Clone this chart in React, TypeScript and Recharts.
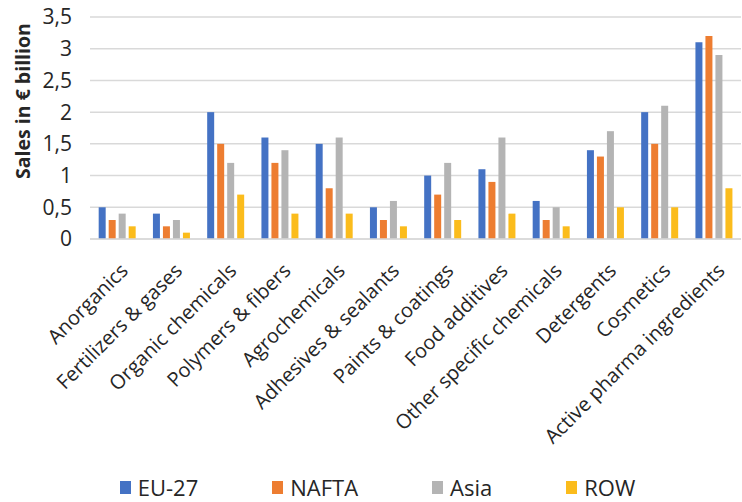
import { BarChart, Bar, XAxis, YAxis, CartesianGrid, Legend } from 'recharts';

const categories = [
  'Anorganics',
  'Fertilizers & gases',
  'Organic chemicals',
  'Polymers & fibers',
  'Agrochemicals',
  'Adhesives & sealants',
  'Paints & coatings',
  'Food additives',
  'Other specific chemicals',
  'Detergents',
  'Cosmetics',
  'Active pharma ingredients',
];
const eu27 = [0.5, 0.4, 2.0, 1.6, 1.5, 0.5, 1.0, 1.1, 0.6, 1.4, 2.0, 3.1];
const nafta = [0.3, 0.2, 1.5, 1.2, 0.8, 0.3, 0.7, 0.9, 0.3, 1.3, 1.5, 3.2];
const asia = [0.4, 0.3, 1.2, 1.4, 1.6, 0.6, 1.2, 1.6, 0.5, 1.7, 2.1, 2.9];
const row = [0.2, 0.1, 0.7, 0.4, 0.4, 0.2, 0.3, 0.4, 0.2, 0.5, 0.5, 0.8];
const yTicks = [0, 0.5, 1, 1.5, 2, 2.5, 3, 3.5];

const series = [
  { key: 'eu27', name: 'EU-27', color: '#4472C4' },
  { key: 'nafta', name: 'NAFTA', color: '#ED7D31' },
  { key: 'asia', name: 'Asia', color: '#B4B4B4' },
  { key: 'row', name: 'ROW', color: '#FBBC1C' },
];

const data = categories.map((name, i) => ({
  name,
  eu27: eu27[i],
  nafta: nafta[i],
  asia: asia[i],
  row: row[i],
}));

const FONT = '"Open Sans", sans-serif';

// rotated category label, end of text sits just right of the bar group centre
const CategoryTick = ({ x, y, payload }: any) => {
  const tx = x + 12;
  const ty = y + 27;
  return (
    <text
      x={tx}
      y={ty}
      transform={`rotate(-45, ${tx}, ${ty})`}
      textAnchor="end"
      fontSize={20}
      fontFamily={FONT}
      fill="#262626"
    >
      {payload.value}
    </text>
  );
};

const AxisTitle = () => (
  <text
    x={22}
    y={101}
    transform="rotate(-90, 22, 101)"
    textAnchor="middle"
    dominantBaseline="central"
    fontSize={19.5}
    fontWeight="bold"
    fontFamily={FONT}
    fill="#262626"
  >
    Sales in € billion
  </text>
);

const LegendBox = () => (
  <div
    style={{
      height: 38,
      display: 'flex',
      justifyContent: 'center',
      alignItems: 'center',
      gap: 74,
      paddingTop: 8,
      paddingLeft: 14,
      boxSizing: 'border-box',
      fontFamily: FONT,
      fontSize: 22,
      color: '#262626',
    }}
  >
    {series.map((s) => (
      <span key={s.key} style={{ display: 'flex', alignItems: 'center' }}>
        <span style={{ width: 11, height: 13, background: s.color, marginRight: 7 }} />
        {s.name}
      </span>
    ))}
  </div>
);

export default function App() {
  return (
    <div style={{ width: 742, height: 502, background: '#fff' }}>
      <style>{'body{margin:0}'}</style>
      <BarChart
        width={742}
        height={502}
        data={data}
        margin={{ top: 17, right: 1, bottom: 0, left: 0 }}
        barGap={3}
        barCategoryGap="16%"
      >
        <CartesianGrid vertical={false} stroke="#d9d9d9" strokeWidth={1.5} />
        <XAxis
          dataKey="name"
          interval={0}
          height={225}
          tick={<CategoryTick />}
          tickLine={false}
          axisLine={{ stroke: '#d9d9d9', strokeWidth: 1.5 }}
          tickMargin={0}
        />
        <YAxis
          width={90}
          domain={[0, 3.5]}
          ticks={yTicks}
          tickFormatter={(v: number) => String(v).replace('.', ',')}
          tick={{ fontSize: 21, fontFamily: FONT, fill: '#262626' }}
          tickLine={false}
          axisLine={false}
          tickMargin={12}
          label={<AxisTitle />}
        />
        <Legend verticalAlign="bottom" content={<LegendBox />} />
        {series.map((s) => (
          <Bar key={s.key} dataKey={s.key} name={s.name} fill={s.color} isAnimationActive={false} />
        ))}
      </BarChart>
    </div>
  );
}
